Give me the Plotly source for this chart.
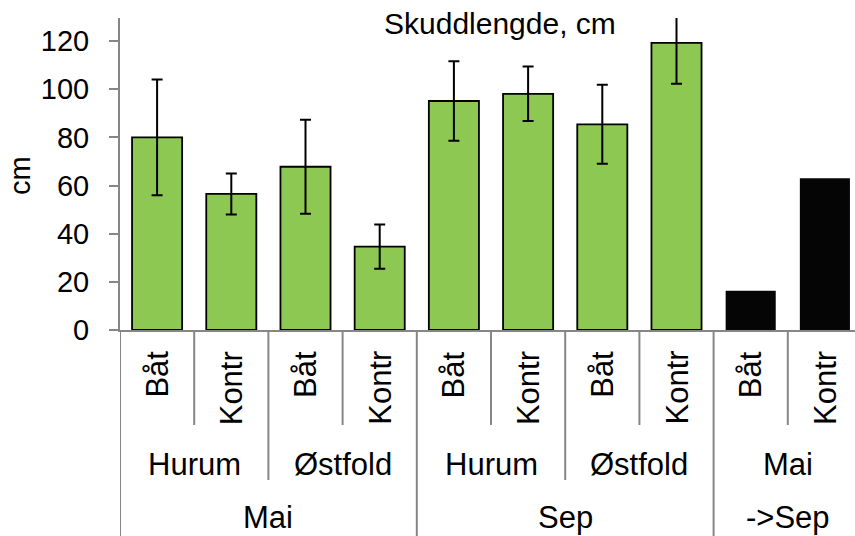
import plotly.graph_objects as go

# Data
treatments = ["Båt", "Kontr", "Båt", "Kontr", "Båt", "Kontr", "Båt", "Kontr", "Båt", "Kontr"]
sites = ["Hurum", "Østfold", "Hurum", "Østfold", "Mai"]
periods = ["Mai", "Sep", "->Sep"]
period_sizes = [4, 4, 2]  # number of bars under each period label

green_values = [80.0, 56.5, 67.8, 34.6, 95.1, 98.1, 85.4, 119.2]
green_errors = [24.0, 8.5, 19.5, 9.2, 16.5, 11.3, 16.4, 16.9]
growth_values = [16.3, 63.0]  # Mai -> Sep

FONT = "Liberation Sans, Arial, sans-serif"
AXIS_GREY = "#868686"

W, H = 855, 536
# plot area in pixels
LEFT, TOP, BOTTOM = 120, 18, 330
PLOT_W = W - LEFT
PLOT_H = BOTTOM - TOP


def py(pix):
    """Pixel row -> paper y."""
    return (BOTTOM - pix) / PLOT_H


def px(pix):
    """Pixel column -> paper x."""
    return (pix - LEFT) / PLOT_W


x_green = list(range(len(green_values)))
x_black = list(range(len(green_values), len(green_values) + len(growth_values)))

fig = go.Figure()

fig.add_trace(go.Bar(
    x=x_green,
    y=green_values,
    width=0.675,
    marker=dict(color="#8DC853", line=dict(color="black", width=1.8)),
    error_y=dict(type="data", array=green_errors, visible=True,
                 color="black", thickness=2, width=5.5),
    showlegend=False,
))

fig.add_trace(go.Bar(
    x=x_black,
    y=growth_values,
    width=0.675,
    marker=dict(color="#050505", line=dict(width=0)),
    showlegend=False,
))

annotations = []
shapes = []

# level 1: treatment labels (rotated)
for i, lab in enumerate(treatments):
    annotations.append(dict(
        x=i, y=py(349), xref="x", yref="paper", text=lab, textangle=-90,
        showarrow=False, xanchor="center", yanchor="top",
        font=dict(family=FONT, size=31, color="black"),
    ))

# level 2: site labels
for j, lab in enumerate(sites):
    annotations.append(dict(
        x=2 * j + 0.5, y=py(464), xref="x", yref="paper", text=lab,
        showarrow=False, xanchor="center", yanchor="middle",
        font=dict(family=FONT, size=31, color="black"),
    ))

# level 3: period labels
start = 0
period_edges = [0]
for lab, n in zip(periods, period_sizes):
    annotations.append(dict(
        x=start + (n - 1) / 2, y=py(517), xref="x", yref="paper", text=lab,
        showarrow=False, xanchor="center", yanchor="middle",
        font=dict(family=FONT, size=31, color="black"),
    ))
    start += n
    period_edges.append(start)

# separators between categories
for k in range(len(treatments)):
    if k in period_edges:
        bottom = H
    elif k % 2 == 0:
        bottom = 480
    else:
        bottom = 425
    shapes.append(dict(
        type="line", xref="x", yref="paper",
        x0=k - 0.5, x1=k - 0.5, y0=py(BOTTOM), y1=py(bottom),
        line=dict(color=AXIS_GREY, width=2),
    ))

# title and y label
annotations.append(dict(
    x=px(500), y=py(23), xref="paper", yref="paper",
    text="Skuddlengde, cm", showarrow=False, xanchor="center", yanchor="middle",
    font=dict(family=FONT, size=30, color="black"),
))
annotations.append(dict(
    x=px(20), y=py(175), xref="paper", yref="paper",
    text="cm", textangle=-90, showarrow=False, xanchor="center", yanchor="middle",
    font=dict(family=FONT, size=29, color="black"),
))

fig.update_layout(
    width=W, height=H,
    margin=dict(l=LEFT, r=0, t=TOP, b=H - BOTTOM),
    plot_bgcolor="white", paper_bgcolor="white",
    annotations=annotations,
    shapes=shapes,
    font=dict(family=FONT, size=29, color="black"),
)

fig.update_xaxes(
    range=[-0.5, -0.5 + PLOT_W / 74.2],
    showticklabels=False, ticks="", showgrid=False, zeroline=False,
    showline=True, linecolor=AXIS_GREY, linewidth=2,
)
fig.update_yaxes(
    range=[0, PLOT_H / 2.408],
    tickvals=[0, 20, 40, 60, 80, 100, 120],
    ticks="outside", ticklen=9, tickwidth=2, tickcolor=AXIS_GREY,
    ticklabelstandoff=14,
    showgrid=False, zeroline=False,
    showline=True, linecolor=AXIS_GREY, linewidth=2,
    tickfont=dict(family=FONT, size=29, color="black"),
)

# drop the default 8px page margin so the figure fills the window
fig.write_html("out.html", config={"displayModeBar": False},
               post_script="document.body.style.margin='0';")
